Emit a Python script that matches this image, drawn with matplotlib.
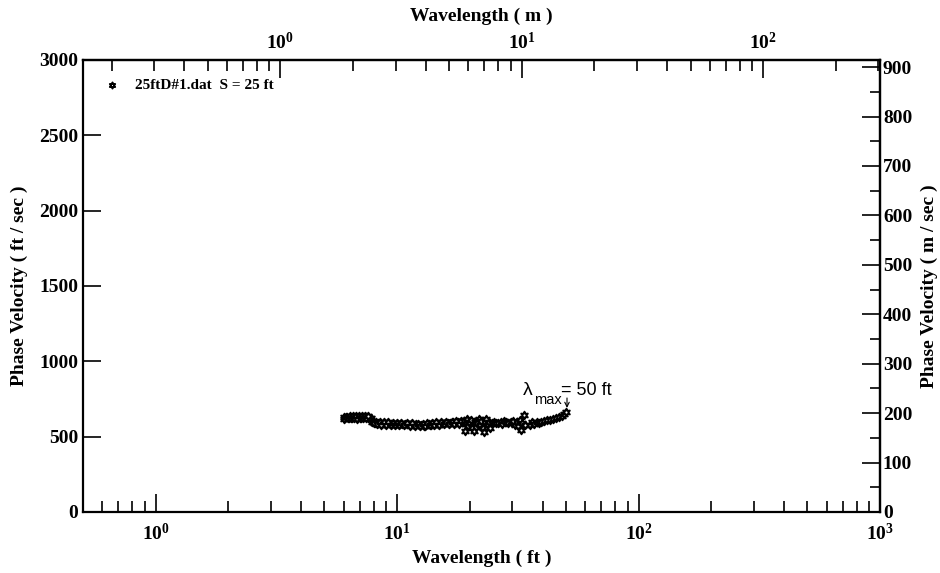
import numpy as np
import matplotlib
matplotlib.use("Agg")
import matplotlib.pyplot as plt
from matplotlib.ticker import FuncFormatter, FixedLocator, LogLocator, MultipleLocator, NullLocator

# Dispersion data: wavelength (ft), phase velocity (ft/s)
wavelength_ft = [
    6.0, 6.1, 6.2, 6.3, 6.4, 6.5, 6.6, 6.7, 6.8, 6.9, 7.0, 7.1, 7.2, 7.3, 7.4, 7.5, 7.6, 7.7, 7.8,
    6.05, 6.15, 6.25, 6.35, 6.45, 6.55, 6.65, 6.75, 6.85, 6.95, 7.05, 7.15, 7.25, 7.35, 7.45, 7.55,
    7.9, 8.0, 8.1, 8.2, 8.3, 8.4, 8.5, 8.7, 8.9, 9.1, 9.3, 9.5, 9.7, 9.9, 10.1, 10.3, 10.5, 10.8,
    11.1, 11.4, 11.7, 12.0, 12.3, 12.6, 12.9, 13.2, 13.5, 13.8, 14.1, 14.4, 14.7, 15.0, 15.4, 15.8,
    16.2, 16.6, 17.0, 17.4, 17.8, 18.2, 18.6,
    8.05, 8.25, 8.45, 8.6, 8.8, 9.0, 9.2, 9.4, 9.6, 9.8, 10.0, 10.2, 10.4, 10.65, 10.95, 11.25,
    11.55, 11.85, 12.15, 12.45, 12.75, 13.05, 13.35, 13.65, 13.95, 14.25, 14.55, 14.85, 15.2,
    15.6, 16.0, 16.4, 16.8, 17.2, 17.6, 18.0, 18.4,
    19.0, 19.1, 19.3, 19.5, 19.7, 19.9, 20.2, 20.5, 20.8, 21.0, 21.2, 21.5, 21.8, 22.0, 22.3, 22.6,
    22.9, 23.1, 23.4, 23.7, 24.0, 24.3, 24.7, 25.2, 25.7, 26.2, 26.8, 27.3, 27.8, 28.3, 28.9, 29.5,
    30.2, 30.8, 31.3, 31.8, 32.2, 32.6, 33.0, 33.4, 33.8, 35.5, 36.2, 37.0, 37.8, 38.6, 39.5, 40.5,
    41.8, 43.0, 44.2, 45.5, 46.8, 48.0, 49.2, 50.0,
]
velocity_fps = [
    628, 625, 630, 627, 629, 626, 630, 628, 626, 631, 627, 629, 632, 628, 630, 633, 627, 625, 622,
    620, 633, 622, 635, 621, 634, 623, 636, 620, 634, 622, 637, 621, 638, 624, 636,
    600, 596, 592, 594, 590, 592, 588, 590, 586, 588, 585, 587, 584, 586, 583, 585, 582, 584,
    581, 583, 579, 581, 577, 575, 573, 578, 582, 580, 584, 583, 587, 585, 589, 588,
    592, 590, 594, 592, 596, 594, 598,
    588, 582, 596, 580, 595, 578, 594, 577, 592, 576, 593, 575, 590, 574, 591, 572,
    589, 570, 586, 568, 582, 570, 589, 574, 591, 577, 594, 579, 597,
    581, 598, 583, 600, 585, 602, 587, 604,
    605, 540, 585, 620, 570, 595, 612, 560, 538, 600, 565, 590, 615, 575, 605, 555,
    530, 595, 618, 580, 600, 560, 590, 595, 588, 592, 600, 585, 605, 595, 590, 598,
    603, 578, 595, 568, 610, 545, 590, 645, 575, 580, 595, 585, 600, 590, 596, 604,
    608, 612, 618, 624, 632, 640, 652, 662,
]
legend_label = "25ftD#1.dat  S = 25 ft"
lambda_max_ft = 50

FT_TO_M = 0.3048

plt.rcParams["font.family"] = "Liberation Serif"
plt.rcParams["font.weight"] = "bold"
plt.rcParams["mathtext.fontset"] = "custom"
plt.rcParams["mathtext.bf"] = "Liberation Serif:bold"
plt.rcParams["mathtext.rm"] = "Liberation Serif:bold"


def pow10(x, pos):
    return r"$\mathbf{10^{%d}}$" % int(round(np.log10(x)))


fig = plt.figure(figsize=(9.4, 5.73), dpi=100)
ax = fig.add_axes([0.0883, 0.1065, 0.848, 0.7888])

ax.scatter(wavelength_ft, velocity_fps, marker=(6, 1, 0), s=30, facecolors="white",
           edgecolors="black", linewidths=1.4, label=legend_label, zorder=3)

ax.set_xscale("log")
ax.set_xlim(0.5, 1000)
ax.set_ylim(0, 3000)

for s in ax.spines.values():
    s.set_linewidth(1.6)

ax.xaxis.set_major_locator(LogLocator(base=10))
ax.xaxis.set_minor_locator(LogLocator(base=10, subs=np.arange(2, 10)))
ax.xaxis.set_major_formatter(FuncFormatter(pow10))
ax.yaxis.set_major_locator(MultipleLocator(500))
ax.yaxis.set_minor_locator(NullLocator())
ax.tick_params(which="both", direction="in", top=False, right=False, labelsize=14, width=1.2)
ax.tick_params(which="major", length=13)
ax.tick_params(which="minor", length=8)
ax.tick_params(axis="x", pad=8)

ax.set_xlabel("Wavelength ( ft )", fontsize=14, fontweight="bold", labelpad=4)
ax.set_ylabel("Phase Velocity ( ft / sec )", fontsize=14, fontweight="bold", labelpad=8)

# top axis in metres
top = ax.secondary_xaxis("top", functions=(lambda x: x * FT_TO_M, lambda x: x / FT_TO_M))
top.xaxis.set_major_locator(FixedLocator([1, 10, 100]))
top.xaxis.set_minor_locator(FixedLocator([0.2, 0.3, 0.4, 0.5, 0.6, 0.7, 0.8, 0.9,
                                          2, 3, 4, 5, 6, 7, 8, 9,
                                          20, 30, 40, 50, 60, 70, 80, 90, 200, 300]))
top.xaxis.set_major_formatter(FuncFormatter(pow10))
top.tick_params(which="both", direction="in", labelsize=14, width=1.2, pad=5)
top.tick_params(which="major", length=13)
top.tick_params(which="minor", length=8)
top.set_xlabel("Wavelength ( m )", fontsize=14, fontweight="bold", labelpad=8)
top.spines["top"].set_linewidth(1.6)

# right axis in m/s
right = ax.secondary_yaxis("right", functions=(lambda v: v * FT_TO_M, lambda v: v / FT_TO_M))
right.yaxis.set_major_locator(FixedLocator(np.arange(0, 901, 100)))
right.yaxis.set_minor_locator(FixedLocator(np.arange(50, 901, 100)))
right.tick_params(which="both", direction="in", labelsize=14, width=1.2, pad=2)
right.tick_params(which="major", length=13)
right.tick_params(which="minor", length=7)
right.set_ylabel("Phase Velocity ( m / sec )", fontsize=14, fontweight="bold", labelpad=6)
right.spines["right"].set_linewidth(1.6)

ax.legend(loc="upper left", bbox_to_anchor=(0.0, 0.99), frameon=False, handletextpad=0.5,
          prop={"family": "Liberation Serif", "weight": "bold", "size": 11}, scatterpoints=1,
          markerscale=0.8)

# lambda max annotation
ax.annotate("", xy=(lambda_max_ft * 1.01, 672), xytext=(lambda_max_ft * 1.01, 775),
            arrowprops=dict(arrowstyle="->", color="black", lw=0.8, mutation_scale=8))
ax.text(33.0, 777, "\u03bb", fontsize=14, family="Liberation Sans", fontweight="normal")
ax.text(37.0, 718, "max", fontsize=10.5, family="Liberation Sans", fontweight="normal")
ax.text(47.5, 777, "= 50 ft", fontsize=13, family="Liberation Sans", fontweight="normal")

fig.savefig("out.png", dpi=100)
